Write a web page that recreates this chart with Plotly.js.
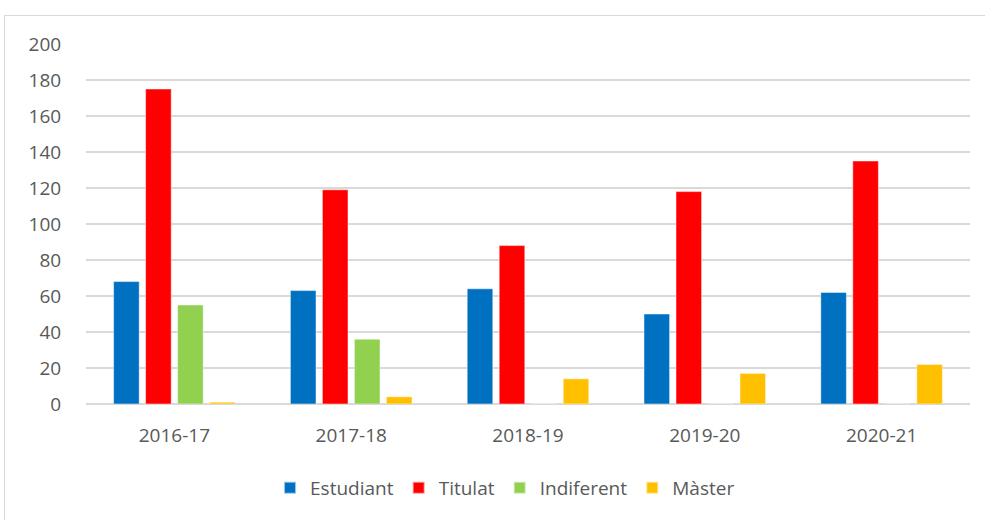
<!DOCTYPE html>
<html>
<head>
<meta charset="utf-8">
<script src="https://cdn.plot.ly/plotly-3.0.1.min.js"></script>
<style>
  html, body { margin: 0; padding: 0; background: #fff; }
  #wrap { position: relative; width: 985px; height: 520px; overflow: hidden; }
  #frame { position: absolute; left: 4px; top: 15px; width: 1000px; height: 600px; border: 1px solid #d9d9d9; box-sizing: border-box; pointer-events: none; }
  #chart { position: absolute; left: 0; top: 0; width: 985px; height: 520px; }
</style>
</head>
<body>
<div id="wrap">
  <div id="frame"></div>
  <div id="chart"></div>
</div>
<script>
const categories = ['2016-17', '2017-18', '2018-19', '2019-20', '2020-21'];
const estudiant = [68, 63, 64, 50, 62];
const titulat = [175, 119, 88, 118, 135];
const indiferent = [55, 36, 0, 0, 0];
const master = [1, 4, 14, 17, 22];
const seriesNames = ['Estudiant', 'Titulat', 'Indiferent', 'Màster'];
const seriesColors = ['#0070C0', '#FF0000', '#92D050', '#FFC000'];
const seriesValues = [estudiant, titulat, indiferent, master];
const yTicks = [0, 20, 40, 60, 80, 100, 120, 140, 160, 180, 200];

const traces = seriesValues.map((vals, i) => ({
  type: 'bar',
  name: seriesNames[i],
  x: categories,
  y: vals,
  marker: { color: seriesColors[i], line: { color: 'rgba(255,255,255,0.6)', width: 0.8 } },
  hoverinfo: 'x+y+name'
}));

const fam = '"Open Sans", "Noto Sans", sans-serif';

const layout = {
  width: 985, height: 520,
  margin: { l: 86, r: 15, t: 44, b: 116 },
  paper_bgcolor: 'rgba(0,0,0,0)',
  plot_bgcolor: 'rgba(0,0,0,0)',
  font: { family: fam, size: 18, color: '#595959' },
  barmode: 'group',
  bargap: 0.276,
  bargroupgap: 0.2,
  showlegend: true,
  legend: {
    orientation: 'h', x: 0.474, xanchor: 'center', y: -0.233, yanchor: 'middle',
    font: { family: fam, size: 19, color: '#595959' },
    itemsizing: 'constant', itemwidth: 30, traceorder: 'normal'
  },
  xaxis: {
    type: 'category',
    showgrid: false, zeroline: false, showline: false,
    ticks: 'outside', ticklen: 14, tickcolor: 'rgba(0,0,0,0)',
    tickfont: { family: fam, size: 19, color: '#595959' }
  },
  yaxis: {
    range: [0, 200], tickvals: yTicks, ticktext: yTicks.map(String),
    showgrid: true, gridcolor: '#d9d9d9', gridwidth: 1.5,
    zeroline: true, zerolinecolor: '#d9d9d9', zerolinewidth: 1.5,
    showline: false,
    ticks: 'outside', ticklen: 20, tickcolor: 'rgba(0,0,0,0)',
    tickfont: { family: fam, size: 19, color: '#595959' },
    fixedrange: true
  }
};

Plotly.newPlot('chart', traces, layout, { displayModeBar: false, staticPlot: true });
</script>
</body>
</html>
